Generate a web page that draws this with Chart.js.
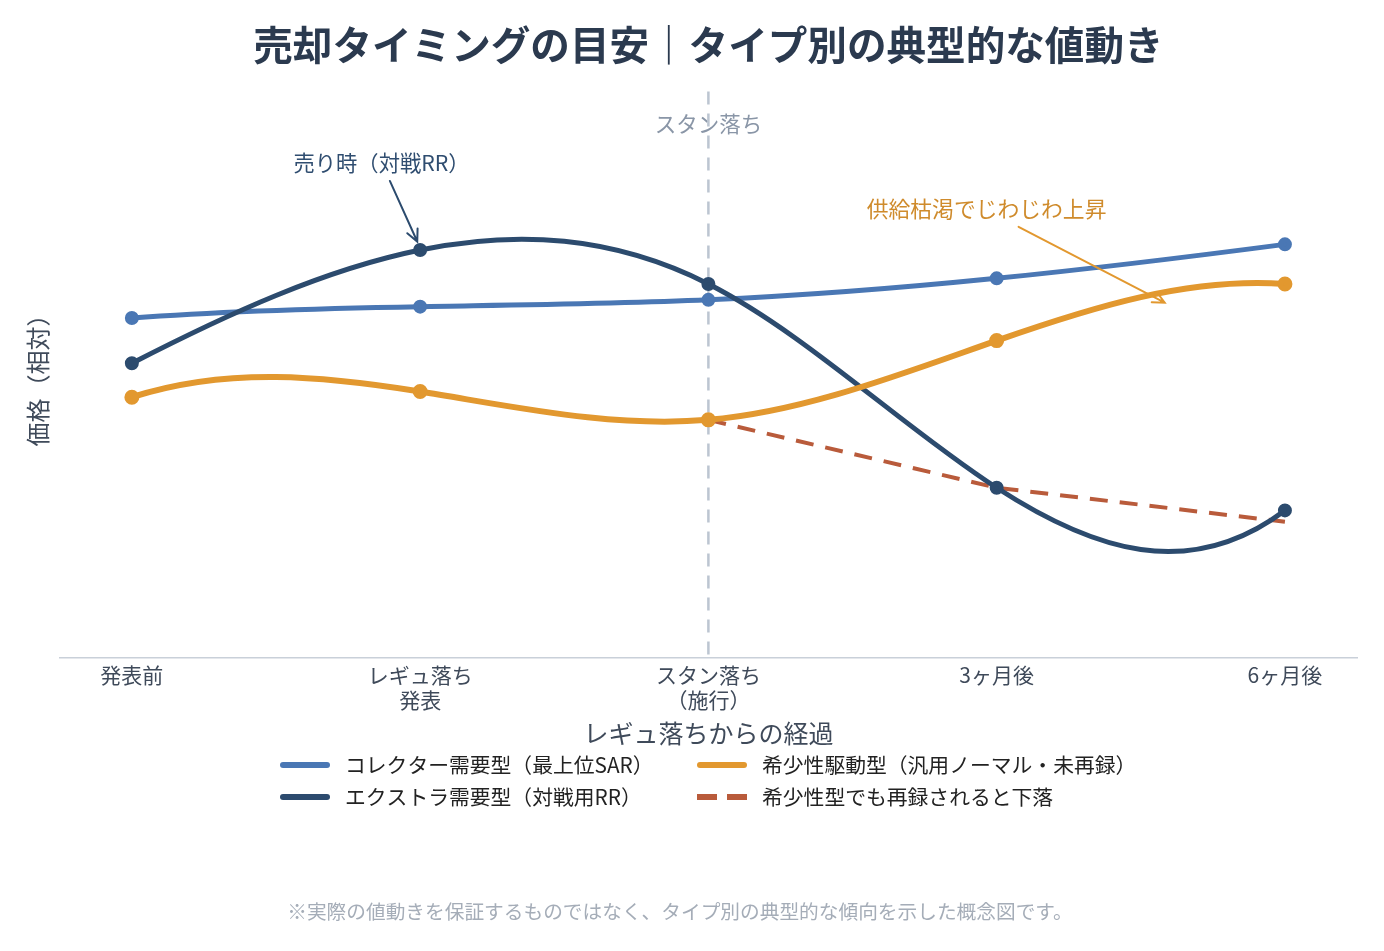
<!DOCTYPE html>
<html lang="ja">
<head>
<meta charset="utf-8">
<title>売却タイミングの目安</title>
<script src="https://cdn.jsdelivr.net/npm/chart.js@4.4.1/dist/chart.umd.min.js"></script>
<style>
  html, body { margin: 0; padding: 0; background: #fff; }
  #wrap { width: 1384px; height: 951px; }
</style>
</head>
<body>
<div id="wrap"><canvas id="chart" width="1384" height="951"></canvas></div>
<script>
// --- data ---
const xLabels = [['発表前'], ['レギュ落ち', '発表'], ['スタン落ち', '（施行）'], ['3ヶ月後'], ['6ヶ月後']];
const seriesNames = [
    'コレクター需要型（最上位SAR）',
    'エクストラ需要型（対戦用RR）',
    '希少性駆動型（汎用ノーマル・未再録）',
    '希少性型でも再録されると下落'
];
const collectorSAR = [60, 62, 63.2, 67, 73];
const extraRR = [52, 72, 66, 30, 26];
const scarcityNormal = [46, 47, 42, 56, 66];
const reprintDrop = [null, null, 42, 30, 24];

const FONT = "'Noto Sans CJK JP', 'Noto Sans', sans-serif";
const C = {
    collector: '#4a77b4',
    extra: '#2c4b6e',
    scarcity: '#e2982f',
    reprint: '#b95b3b',
    text: '#3f4a5a',
    title: '#2b3a4f',
    guide: '#bcc5d1'
};

Chart.defaults.font.family = FONT;

function toPoints(values) {
    return values.map((v, i) => ({x: i, y: v}));
}

// not-a-knot cubic spline -> second derivatives
function splineSecondDerivs(xs, ys) {
    const n = xs.length;
    const h = [];
    for (let i = 0; i < n - 1; i++) h.push(xs[i + 1] - xs[i]);
    const A = [], b = [];
    for (let i = 0; i < n; i++) { A.push(new Array(n).fill(0)); b.push(0); }
    A[0][0] = -h[1]; A[0][1] = h[0] + h[1]; A[0][2] = -h[0];
    for (let i = 1; i < n - 1; i++) {
        A[i][i - 1] = h[i - 1];
        A[i][i] = 2 * (h[i - 1] + h[i]);
        A[i][i + 1] = h[i];
        b[i] = 6 * ((ys[i + 1] - ys[i]) / h[i] - (ys[i] - ys[i - 1]) / h[i - 1]);
    }
    A[n - 1][n - 3] = -h[n - 2]; A[n - 1][n - 2] = h[n - 3] + h[n - 2]; A[n - 1][n - 1] = -h[n - 3];
    for (let c = 0; c < n; c++) {
        let p = c;
        for (let r = c + 1; r < n; r++) if (Math.abs(A[r][c]) > Math.abs(A[p][c])) p = r;
        [A[c], A[p]] = [A[p], A[c]];
        [b[c], b[p]] = [b[p], b[c]];
        for (let r = c + 1; r < n; r++) {
            const f = A[r][c] / A[c][c];
            for (let k = c; k < n; k++) A[r][k] -= f * A[c][k];
            b[r] -= f * b[c];
        }
    }
    const M = new Array(n).fill(0);
    for (let r = n - 1; r >= 0; r--) {
        let s = b[r];
        for (let k = r + 1; k < n; k++) s -= A[r][k] * M[k];
        M[r] = s / A[r][r];
    }
    return M;
}

// replaces chart.js control points with spline ones for datasets flagged `spline`
const splinePlugin = {
    id: 'splineCurve',
    beforeDatasetsDraw(chart) {
        chart.data.datasets.forEach((ds, di) => {
            if (!ds.spline) return;
            const meta = chart.getDatasetMeta(di);
            const pts = meta.data.filter(p => !p.skip);
            if (pts.length < 4) return;
            const xs = pts.map(p => p.x), ys = pts.map(p => p.y);
            const M = splineSecondDerivs(xs, ys);
            for (let i = 0; i < pts.length - 1; i++) {
                const h = xs[i + 1] - xs[i];
                const d = (ys[i + 1] - ys[i]) / h;
                const s0 = d - h * (2 * M[i] + M[i + 1]) / 6;
                const s1 = d + h * (M[i] + 2 * M[i + 1]) / 6;
                pts[i].cp2x = xs[i] + h / 3;
                pts[i].cp2y = ys[i] + s0 * h / 3;
                pts[i + 1].cp1x = xs[i + 1] - h / 3;
                pts[i + 1].cp1y = ys[i + 1] - s1 * h / 3;
            }
            meta.dataset._pointsUpdated = true;
            meta.dataset._path = undefined;
        });
    }
};

function drawArrow(ctx, x1, y1, x2, y2, color, width, head) {
    const ang = Math.atan2(y2 - y1, x2 - x1);
    ctx.save();
    ctx.strokeStyle = color;
    ctx.lineWidth = width;
    ctx.lineCap = 'round';
    ctx.beginPath();
    ctx.moveTo(x1, y1);
    ctx.lineTo(x2, y2);
    ctx.moveTo(x2 - head * Math.cos(ang - 0.45), y2 - head * Math.sin(ang - 0.45));
    ctx.lineTo(x2, y2);
    ctx.lineTo(x2 - head * Math.cos(ang + 0.45), y2 - head * Math.sin(ang + 0.45));
    ctx.stroke();
    ctx.restore();
}

const overlayPlugin = {
    id: 'overlay',
    beforeDatasetsDraw(chart, args, opts) {
        const {ctx, chartArea} = chart;
        const x = chart.scales.x.getPixelForValue(opts.guide.at);
        ctx.save();
        ctx.font = '21.5px ' + FONT;
        ctx.fillStyle = '#8a96a7';
        ctx.textAlign = 'center';
        ctx.textBaseline = 'middle';
        ctx.fillText(opts.guide.label, x, chartArea.top + 32);
        ctx.strokeStyle = C.guide;
        ctx.lineWidth = 2.5;
        ctx.setLineDash([13, 9]);
        ctx.beginPath();
        ctx.moveTo(x, chartArea.top);
        ctx.lineTo(x, chartArea.bottom);
        ctx.stroke();
        ctx.restore();
    },
    afterDatasetsDraw(chart, args, opts) {
        const {ctx} = chart;
        const sx = chart.scales.x, sy = chart.scales.y;
        opts.notes.forEach(n => {
            ctx.save();
            ctx.font = n.size + 'px ' + FONT;
            ctx.fillStyle = n.textColor;
            ctx.textAlign = 'center';
            ctx.textBaseline = 'middle';
            ctx.fillText(n.text, sx.getPixelForValue(n.tx), sy.getPixelForValue(n.ty));
            ctx.restore();
            drawArrow(ctx,
                sx.getPixelForValue(n.from[0]), sy.getPixelForValue(n.from[1]),
                sx.getPixelForValue(n.to[0]), sy.getPixelForValue(n.to[1]),
                n.arrowColor, 2, 13);
        });
    },
    afterDraw(chart, args, opts) {
        const {ctx} = chart;
        const lg = opts.legend;
        ctx.save();
        ctx.font = lg.size + 'px ' + FONT;
        ctx.textBaseline = 'middle';
        ctx.textAlign = 'left';
        lg.items.forEach(it => {
            const ds = chart.data.datasets[it.ds];
            const x = lg.cols[it.col], y = lg.rows[it.row];
            ctx.save();
            ctx.strokeStyle = ds.borderColor;
            ctx.lineWidth = 6;
            ctx.lineCap = ds.borderDash ? 'butt' : 'round';
            ctx.setLineDash(ds.borderDash ? [20, 10] : []);
            ctx.beginPath();
            ctx.moveTo(x + (ds.borderDash ? 0 : 3), y);
            ctx.lineTo(x + lg.swatch - (ds.borderDash ? 0 : 3), y);
            ctx.stroke();
            ctx.restore();
            ctx.fillStyle = '#222';
            ctx.fillText(ds.label, x + lg.swatch + 15, y);
        });
        const fn = opts.footnote;
        ctx.font = fn.size + 'px ' + FONT;
        ctx.fillStyle = fn.color;
        ctx.textAlign = 'center';
        ctx.fillText(fn.text, fn.x, fn.y);
        ctx.restore();
    }
};

new Chart(document.getElementById('chart').getContext('2d'), {
    type: 'line',
    data: {
        datasets: [
            {
                label: seriesNames[2],
                data: toPoints(scarcityNormal),
                borderColor: C.scarcity,
                backgroundColor: C.scarcity,
                pointBackgroundColor: C.scarcity,
                borderWidth: 6,
                tension: 0.4,
                spline: true,
                order: 0
            },
            {
                label: seriesNames[1],
                data: toPoints(extraRR),
                borderColor: C.extra,
                backgroundColor: C.extra,
                pointBackgroundColor: C.extra,
                borderWidth: 5,
                tension: 0.4,
                spline: true,
                order: 1
            },
            {
                label: seriesNames[0],
                data: toPoints(collectorSAR),
                borderColor: C.collector,
                backgroundColor: C.collector,
                pointBackgroundColor: C.collector,
                borderWidth: 5,
                tension: 0.4,
                spline: true,
                order: 2
            },
            {
                label: seriesNames[3],
                data: toPoints(reprintDrop),
                borderColor: C.reprint,
                backgroundColor: C.reprint,
                borderWidth: 4,
                borderDash: [18, 12],
                pointRadius: 0,
                tension: 0,
                order: 3
            }
        ]
    },
    options: {
        responsive: false,
        animation: false,
        events: [],
        devicePixelRatio: 1,
        elements: {
            point: {radius: 4.5, borderColor: '#ffffff', borderWidth: 2}
        },
        layout: {padding: {left: 20, right: 27, top: 0, bottom: 203}},
        scales: {
            x: {
                type: 'linear',
                min: -0.25,
                max: 4.25,
                afterBuildTicks: (axis) => {
                    axis.ticks = xLabels.map((_, i) => ({value: i}));
                },
                ticks: {
                    callback: (v) => xLabels[v],
                    font: {size: 21},
                    color: C.text,
                    padding: 5,
                    autoSkip: false,
                    maxRotation: 0
                },
                grid: {display: false, drawTicks: false},
                border: {display: true, color: '#c9d0d9', width: 1.5},
                title: {
                    display: true,
                    text: 'レギュ落ちからの経過',
                    font: {size: 25},
                    color: C.text,
                    padding: {top: 0, bottom: 0}
                }
            },
            y: {
                min: 0,
                max: 100,
                ticks: {display: false},
                grid: {display: false, drawTicks: false},
                border: {display: false},
                title: {
                    display: true,
                    text: '価格（相対）',
                    font: {size: 24},
                    color: C.text,
                    padding: {top: 3, bottom: 8}
                }
            }
        },
        plugins: {
            legend: {display: false},
            tooltip: {enabled: false},
            title: {
                display: true,
                fullSize: false,
                text: '売却タイミングの目安｜タイプ別の典型的な値動き',
                color: C.title,
                font: {size: 39.6, weight: 'bold'},
                padding: {top: 21, bottom: 23}
            },
            overlay: {
                guide: {at: 2, label: 'スタン落ち'},
                notes: [
                    {
                        text: '売り時（対戦RR）', tx: 0.866, ty: 87.4, size: 21.3,
                        textColor: '#2f4d70', arrowColor: C.extra,
                        from: [0.895, 84.2], to: [0.99, 73.5]
                    },
                    {
                        text: '供給枯渇でじわじわ上昇', tx: 2.965, ty: 79.3, size: 21.8,
                        textColor: '#cf8b2c', arrowColor: C.scarcity,
                        from: [3.076, 76.1], to: [3.583, 62.7]
                    }
                ],
                legend: {
                    size: 20.8,
                    swatch: 50,
                    cols: [280, 697],
                    rows: [765, 797],
                    items: [
                        {ds: 2, col: 0, row: 0},
                        {ds: 1, col: 0, row: 1},
                        {ds: 0, col: 1, row: 0},
                        {ds: 3, col: 1, row: 1}
                    ]
                },
                footnote: {
                    text: '※実際の値動きを保証するものではなく、タイプ別の典型的な傾向を示した概念図です。',
                    size: 19.7,
                    color: '#a5adb8',
                    x: 680,
                    y: 912
                }
            }
        }
    },
    plugins: [splinePlugin, overlayPlugin]
});
</script>
</body>
</html>
